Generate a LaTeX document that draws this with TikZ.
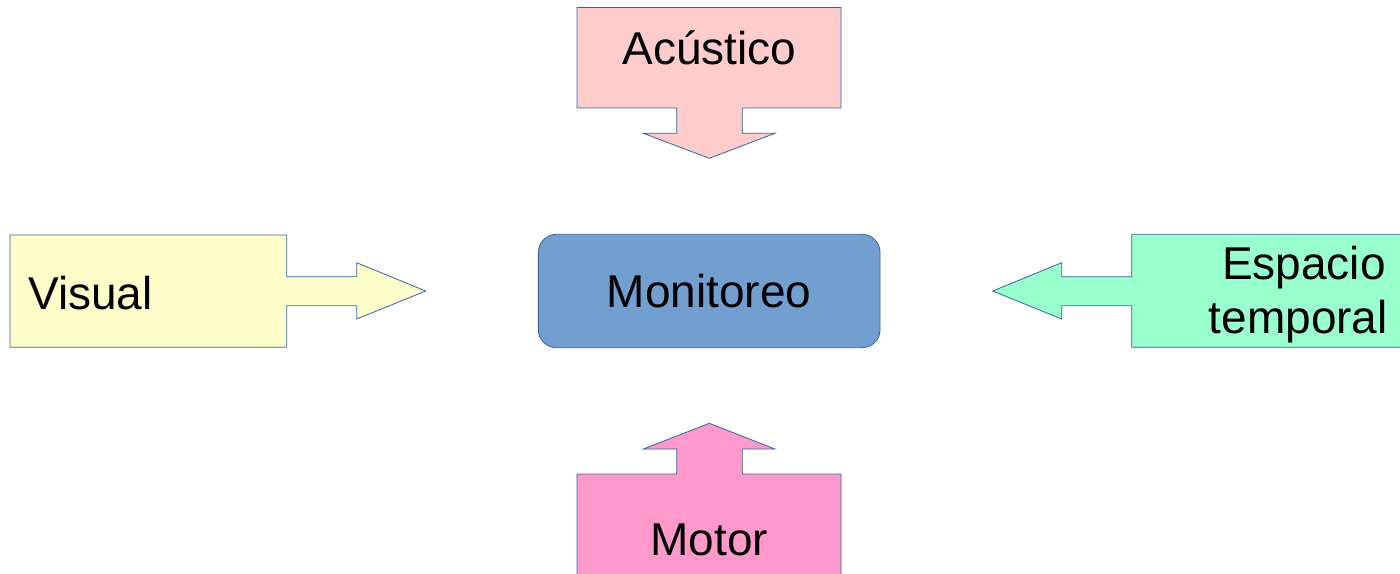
\documentclass[tikz,border=0pt]{standalone}
\usepackage{fontspec}
\setmainfont{Liberation Sans}
\definecolor{edge}{HTML}{3465A4}
\definecolor{acu}{HTML}{FFCCCC}
\definecolor{vis}{HTML}{FFFFCC}
\definecolor{esp}{HTML}{99FFCC}
\definecolor{mot}{HTML}{FF99CC}
\definecolor{mon}{HTML}{729FCF}
\tikzset{
  shapebox/.style={draw=edge, line width=0.8pt, line join=miter},
  lbl/.style={font=\fontsize{46}{54}\selectfont, text=black, inner sep=0pt},
}
\begin{document}
\begin{tikzpicture}[x=1pt,y=-1pt]
\useasboundingbox (0,0) rectangle (1400,573);
% Acustico
\draw[shapebox, fill=acu] (577,7.5) -- (841,7.5) -- (841,108) -- (742.3,108) -- (742.3,133.3) -- (775,133.3) -- (709.3,158.3) -- (643.3,133.3) -- (676.7,133.3) -- (676.7,108) -- (577,108) -- cycle;
\node[lbl, anchor=base] (acu) at (709.5,64.3) {Acústico};
% Visual
\draw[shapebox, fill=vis] (10,235) -- (286.7,235) -- (286.7,276.7) -- (356.7,276.7) -- (356.7,262.7) -- (425.7,291) -- (356.7,319) -- (356.7,305.7) -- (286.7,305.7) -- (286.7,347.3) -- (10,347.3) -- cycle;
\node[lbl, anchor=base west] (vis) at (28,309.3) {Visual};
% Espacio temporal
\draw[shapebox, fill=esp] (1410,234.3) -- (1131.7,234.3) -- (1131.7,276.7) -- (1061.7,276.7) -- (1061.7,262.7) -- (992.7,291) -- (1061.7,319) -- (1061.7,305.7) -- (1131.7,305.7) -- (1131.7,347.3) -- (1410,347.3) -- cycle;
\node[lbl, anchor=base east] (esp1) at (1386,279.3) {Espacio};
\node[lbl, anchor=base east] (esp2) at (1388,333.3) {temporal};
% Motor
\draw[shapebox, fill=mot] (577,474) -- (676.7,474) -- (676.7,449) -- (643.3,449) -- (709.3,423.3) -- (775,449) -- (742.3,449) -- (742.3,474) -- (841,474) -- (841,590) -- (577,590) -- cycle;
\node[lbl, anchor=base] (mot) at (709.3,555) {Motor};
% Monitoreo
\node[draw=edge, line width=0.8pt, fill=mon, rounded corners=18pt, minimum width=341.7pt, minimum height=113.4pt, font=\fontsize{46}{54}\selectfont] (mon) at (709.2,291) {Monitoreo};
\end{tikzpicture}
\end{document}
